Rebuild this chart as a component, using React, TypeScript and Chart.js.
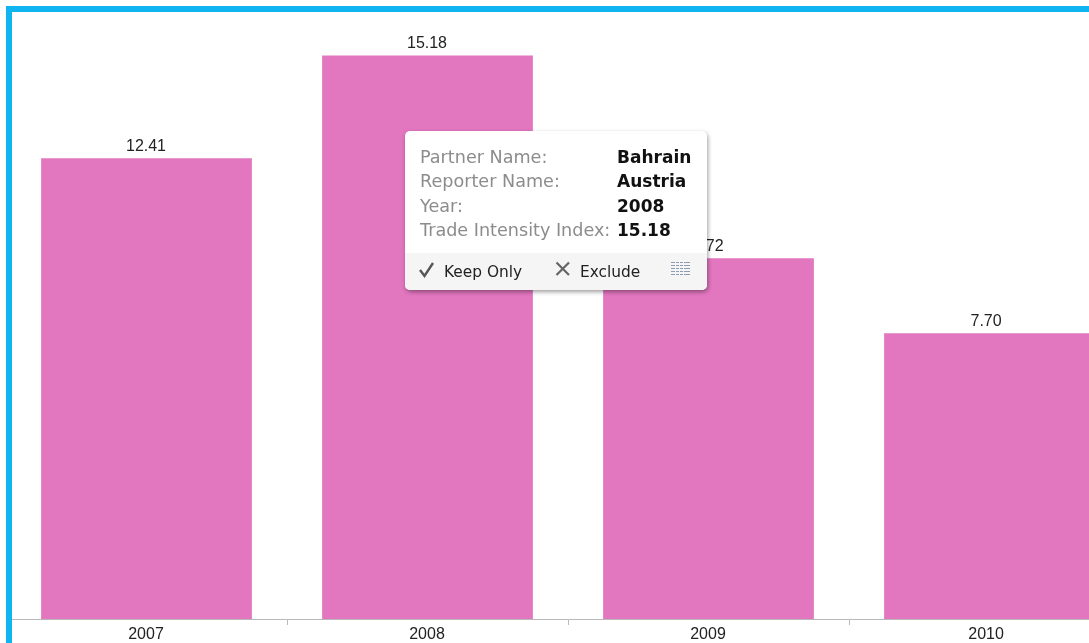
import React, { useEffect, useRef } from "react";
import { Chart, registerables } from "chart.js";

Chart.register(...registerables);

const years = ["2007", "2008", "2009", "2010"];
const tradeIntensity = [12.41, 15.18, 9.72, 7.7];
const focusIndex = 1;
const partnerName = "Bahrain";
const reporterName = "Austria";

const PINK = "#e276bf";
const BLUE = "#0fb4f0";
const LABEL_FONT = '16px "Liberation Sans", Arial, sans-serif';
const VIEW_WIDTH = 1089;

// Prints values above the bars and years below the axis, each centred on the
// part of its bar that lies inside the visible width.
const barCaptions = {
  id: "barCaptions",
  afterDatasetsDraw(chart: any) {
    const { ctx } = chart;
    const axisY = chart.scales.x.top;
    const bars = chart.getDatasetMeta(0).data;
    ctx.save();
    ctx.font = LABEL_FONT;
    ctx.fillStyle = "#222222";
    ctx.textAlign = "center";
    ctx.textBaseline = "alphabetic";
    bars.forEach((bar: any, i: number) => {
      const half = bar.width / 2;
      const centre = (bar.x - half + Math.min(bar.x + half, VIEW_WIDTH)) / 2 - 0.5;
      ctx.fillText(tradeIntensity[i].toFixed(2), centre, bar.y - 7);
      ctx.fillText(years[i], centre, axisY + 20);
    });
    ctx.restore();
  },
};

const rowLabel: React.CSSProperties = { color: "#8c8c8c", fontSize: 17.6 };
const rowValue: React.CSSProperties = { color: "#111111", fontWeight: 700, fontSize: 17 };

function HoverCard() {
  const rows = [
    ["Partner Name:", partnerName],
    ["Reporter Name:", reporterName],
    ["Year:", years[focusIndex]],
    ["Trade Intensity Index:", tradeIntensity[focusIndex].toFixed(2)],
  ];
  return (
    <div
      style={{
        position: "absolute",
        left: 405,
        top: 131,
        width: 302,
        height: 159,
        background: "#ffffff",
        borderRadius: 5,
        boxShadow: "1px 2px 4px rgba(0,0,0,0.38)",
        overflow: "hidden",
        fontFamily: '"DejaVu Sans", Verdana, sans-serif',
      }}
    >
      {rows.map(([label, value], i) => (
        <React.Fragment key={label}>
          <span style={{ ...rowLabel, position: "absolute", left: 15, top: 14 + i * 24.4, lineHeight: "24px", whiteSpace: "nowrap" }}>
            {label}
          </span>
          <span style={{ ...rowValue, position: "absolute", left: 212, top: 14 + i * 24.4, lineHeight: "24px", whiteSpace: "nowrap" }}>
            {value}
          </span>
        </React.Fragment>
      ))}
      <div style={{ position: "absolute", left: 0, top: 122, width: 302, height: 37, background: "#f5f5f5", color: "#222222", fontSize: 15.4 }}>
        <svg width="18" height="18" style={{ position: "absolute", left: 13, top: 8 }}>
          <path d="M2 9 L6.5 15 L15 2" fill="none" stroke="#555555" strokeWidth="2.4" />
        </svg>
        <span style={{ position: "absolute", left: 39, top: 9, lineHeight: "20px", whiteSpace: "nowrap" }}>Keep Only</span>
        <svg width="16" height="16" style={{ position: "absolute", left: 150, top: 8 }}>
          <path d="M1.5 1.5 L14 14 M14 1.5 L1.5 14" fill="none" stroke="#666666" strokeWidth="2.2" />
        </svg>
        <span style={{ position: "absolute", left: 175, top: 9, lineHeight: "20px", whiteSpace: "nowrap" }}>Exclude</span>
        <svg width="20" height="14" style={{ position: "absolute", left: 266, top: 9 }}>
          {[0, 3, 6, 9, 12].map((y) => (
            <line key={y} x1="0" x2="19" y1={y + 0.5} y2={y + 0.5} stroke="#8d9bb3" strokeWidth="1" />
          ))}
          {[4.5, 8.5, 12.5].map((x) => (
            <line key={x} x1={x} x2={x} y1="0" y2="13" stroke="#f5f5f5" strokeWidth="1" />
          ))}
        </svg>
      </div>
    </div>
  );
}

export default function App() {
  const canvasRef = useRef<HTMLCanvasElement>(null);

  useEffect(() => {
    const chart = new Chart(canvasRef.current!, {
      type: "bar",
      data: {
        labels: years,
        datasets: [
          {
            data: tradeIntensity,
            backgroundColor: PINK,
            barPercentage: 0.75,
            categoryPercentage: 1,
          },
        ],
      },
      options: {
        animation: false,
        responsive: false,
        layout: { padding: { left: 6, right: 0, top: 12, bottom: 0 } },
        plugins: { legend: { display: false }, tooltip: { enabled: false } },
        scales: {
          x: {
            offset: true,
            afterFit(scale: any) {
              scale.height = 24;
            },
            border: { color: "#b9b9b9", width: 1 },
            grid: { drawOnChartArea: false, color: "#b9b9b9", tickLength: 6, offset: true },
            ticks: { display: false },
          },
          y: { display: false, min: 0, max: 16.35 },
        },
      },
      plugins: [barCaptions],
    });
    return () => chart.destroy();
  }, []);

  return (
    <div style={{ position: "fixed", left: 0, top: 0, width: VIEW_WIDTH, height: 643, overflow: "hidden", background: "#ffffff" }}>
      <canvas ref={canvasRef} width={1130} height={643} style={{ display: "block", width: 1130, height: 643 }} />
      <div style={{ position: "absolute", left: 6, top: 6, width: 1083, height: 6, background: BLUE }} />
      <div style={{ position: "absolute", left: 6, top: 6, width: 6, height: 637, background: BLUE }} />
      <HoverCard />
    </div>
  );
}
